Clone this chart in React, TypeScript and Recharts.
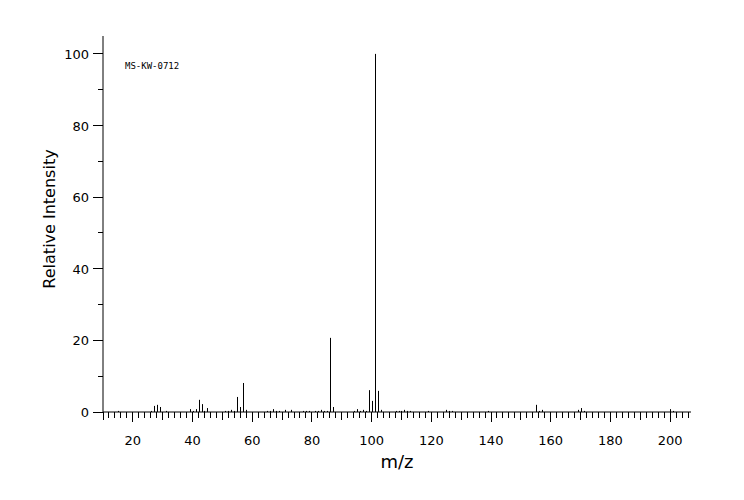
import { ComposedChart, Bar, XAxis, YAxis } from 'recharts'

// m/z values and relative intensities
const MZ = [
  15, 26, 27, 28, 29, 31, 39, 40, 41, 42, 43, 44, 45,
  51, 52, 53, 54, 55, 56, 57, 58, 65, 66, 67, 68, 69, 71, 73,
  77, 78, 79, 81, 82, 83, 84, 85, 86, 87,
  94, 95, 96, 97, 98, 99, 100, 101, 102, 103,
  108, 109, 110, 111, 112, 113, 119, 125, 126, 127,
  139, 155, 156, 157, 169, 170, 171, 200, 201,
]
const INTENSITY = [
  0.3, 0.3, 1.7, 2.0, 1.4, 0.3, 0.8, 0.3, 0.8, 3.4, 2.2, 0.3, 1.1,
  0.3, 0.3, 0.6, 0.3, 4.2, 1.4, 8.1, 0.6, 0.3, 0.3, 0.8, 0.3, 0.3, 0.6, 0.6,
  0.3, 0.3, 0.3, 0.3, 0.3, 0.6, 0.3, 0.3, 20.7, 1.4,
  0.3, 0.8, 0.3, 0.6, 0.3, 6.1, 3.1, 100, 5.9, 0.6,
  0.3, 0.3, 0.3, 0.6, 0.3, 0.3, 0.3, 0.6, 0.3, 0.3,
  0.3, 2.0, 0.3, 0.6, 0.6, 1.1, 0.3, 0.8, 0.3,
]

const X_TICKS = Array.from({ length: 99 }, (_, i) => 10 + i * 2)
const Y_TICKS = [0, 10, 20, 30, 40, 50, 60, 70, 80, 90, 100]

const data = MZ.map((mz, i) => ({ mz, value: INTENSITY[i] }))

const FONT = '"DejaVu Sans", sans-serif'

function XTick({ x, y, payload }: any) {
  const v = payload.value as number
  const major = v % 20 === 0
  const len = major ? 10 : v % 10 === 0 ? 8 : 6
  return (
    <g>
      <line x1={x} x2={x} y1={y} y2={y + len} stroke="#000" shapeRendering="crispEdges" />
      {major && (
        <text x={x} y={y + 33} textAnchor="middle" fontSize={13} fontFamily={FONT} fill="#000">
          {v}
        </text>
      )}
    </g>
  )
}

function YTick({ x, y, payload }: any) {
  const v = payload.value as number
  const major = v % 20 === 0
  const len = major ? 10 : 5
  return (
    <g>
      <line x1={x - len} x2={x} y1={y} y2={y} stroke="#000" shapeRendering="crispEdges" />
      {major && (
        <text x={x - 14} y={y + 5} textAnchor="end" fontSize={13} fontFamily={FONT} fill="#000">
          {v}
        </text>
      )}
    </g>
  )
}

function Stick({ x, y, width, height }: any) {
  const cx = Math.round(x + width / 2) + 0.5
  return <line x1={cx} x2={cx} y1={y} y2={y + height} stroke="#000" strokeWidth={1} />
}

export default function App() {
  return (
    <div style={{ position: 'absolute', left: 0, top: 0, width: 744, height: 500, background: '#fff' }}>
      <ComposedChart width={744} height={500} data={data} margin={{ top: 36, right: 53, left: 0, bottom: 0 }}>
        <XAxis
          dataKey="mz"
          type="number"
          domain={[10, 207]}
          ticks={X_TICKS}
          interval={0}
          allowDataOverflow
          height={88}
          tickSize={0}
          tickMargin={0}
          tickLine={false}
          axisLine={{ stroke: '#000' }}
          tick={<XTick />}
          label={{
            content: ({ viewBox }: any) => (
              <text x={viewBox.x + viewBox.width / 2} y={viewBox.y + 56} textAnchor="middle" fontSize={18} fontFamily={FONT} fill="#000">
                m/z
              </text>
            ),
          }}
        />
        <XAxis xAxisId="top" orientation="top" type="number" domain={[10, 207]} height={0} tick={false} tickLine={false} axisLine={{ stroke: '#000' }} />
        <YAxis
          type="number"
          domain={[0, 105]}
          ticks={Y_TICKS}
          interval={0}
          allowDataOverflow
          width={103}
          tickSize={0}
          tickMargin={0}
          tickLine={false}
          axisLine={{ stroke: '#000' }}
          tick={<YTick />}
          label={{
            content: ({ viewBox }: any) => {
              const cx = 50
              const cy = viewBox.y + viewBox.height / 2 - 5
              return (
                <text x={cx} y={cy} transform={`rotate(-90 ${cx} ${cy})`} textAnchor="middle" dominantBaseline="middle" fontSize={16} fontFamily={FONT} fill="#000">
                  Relative Intensity
                </text>
              )
            },
          }}
        />
        <YAxis yAxisId="right" orientation="right" type="number" domain={[0, 105]} width={0} tick={false} tickLine={false} axisLine={{ stroke: '#000' }} />
        <Bar dataKey="value" barSize={1} shape={<Stick />} isAnimationActive={false} />
      </ComposedChart>
      <div
        style={{
          position: 'absolute',
          left: 125,
          top: 61,
          fontFamily: '"DejaVu Sans Mono", monospace',
          fontSize: 9,
          color: '#000',
          lineHeight: '11px',
        }}
      >
        MS-KW-0712
      </div>
    </div>
  )
}
